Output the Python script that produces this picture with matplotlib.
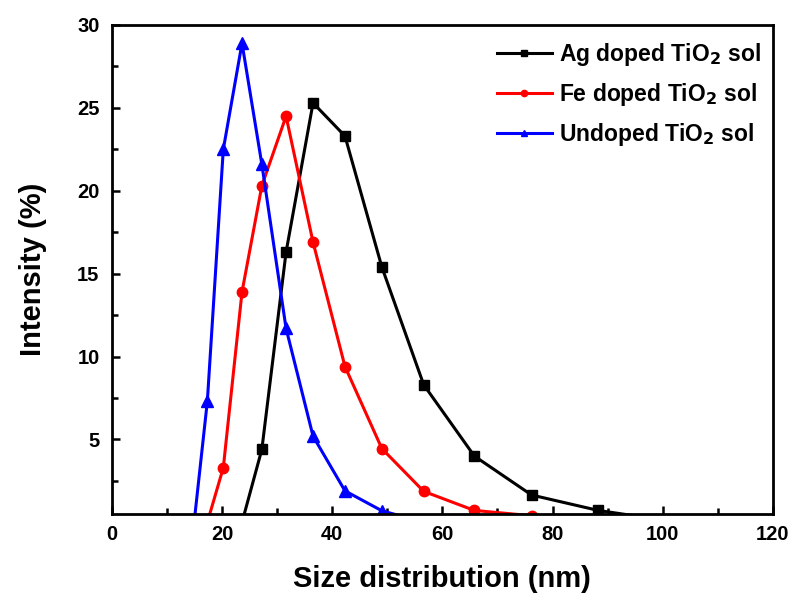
import numpy as np
import matplotlib.pyplot as plt
from matplotlib.ticker import MultipleLocator

plt.rcParams['font.family'] = ['Liberation Sans', 'DejaVu Sans']
plt.rcParams['font.weight'] = 'bold'

# size bins (nm)
size = [2.9, 3.4, 3.9, 4.5, 5.3, 6.1, 7.1, 8.2, 9.5, 11.0, 12.8, 14.9,
        17.3, 20.2, 23.6, 27.2, 31.6, 36.5, 42.3, 49.0, 56.6, 65.8,
        76.2, 88.3, 102.0, 118.0]

ag = [0, 0, 0, 0, 0, 0, 0, 0, 0, 0, 0, 0,
      0, 0, 0, 4.4, 16.3, 25.3, 23.3, 15.4, 8.3, 4.0,
      1.65, 0.72, 0.05, 0]
fe = [0, 0, 0, 0, 0, 0, 0, 0, 0, 0, 0, 0,
      0, 3.3, 13.9, 20.3, 24.5, 16.9, 9.4, 4.45, 1.87, 0.72,
      0.4, 0, 0, 0]
undoped = [0, 0, 0, 0, 0, 0, 0, 0, 0, 0, 0, 0,
           7.3, 22.5, 28.9, 21.6, 11.7, 5.2, 1.9, 0.7, 0, 0,
           0, 0, 0, 0]

fig = plt.figure(figsize=(7.95, 5.95), dpi=100)
ax = fig.add_axes([0.141, 0.136, 0.831, 0.822])

ax.plot(size, ag, color='black', marker='s', ms=7.5, lw=2.2,
        label='Ag doped TiO$_\\mathbf{2}$ sol')
ax.plot(size, fe, color='red', marker='o', ms=7.5, lw=2.2,
        label='Fe doped TiO$_\\mathbf{2}$ sol')
ax.plot(size, undoped, color='blue', marker='^', ms=8, lw=2.2,
        label='Undoped TiO$_\\mathbf{2}$ sol')

ax.set_xlim(0, 120)
ax.set_ylim(0.5, 30)
ax.xaxis.set_major_locator(MultipleLocator(20))
ax.xaxis.set_minor_locator(MultipleLocator(10))
ax.yaxis.set_major_locator(MultipleLocator(5))
ax.yaxis.set_minor_locator(MultipleLocator(2.5))
ax.tick_params(which='both', direction='in', width=1.8, labelsize=14.5)
ax.tick_params(which='major', length=6)
ax.tick_params(which='minor', length=4)
ax.tick_params(axis='x', pad=8)
ax.tick_params(axis='y', pad=9)
for s in ax.spines.values():
    s.set_linewidth(2)

ax.set_xlabel('Size distribution (nm)', fontsize=21, fontweight='bold',
              labelpad=15)
ax.set_ylabel('Intensity (%)', fontsize=21, fontweight='bold', labelpad=22)

leg = ax.legend(loc='upper right', frameon=False, fontsize=16.5,
                markerscale=0.6, handlelength=2.4, labelspacing=0.55,
                handletextpad=0.3, borderaxespad=0.0,
                bbox_to_anchor=(0.995, 0.985))

fig.savefig('out.png', dpi=100)
